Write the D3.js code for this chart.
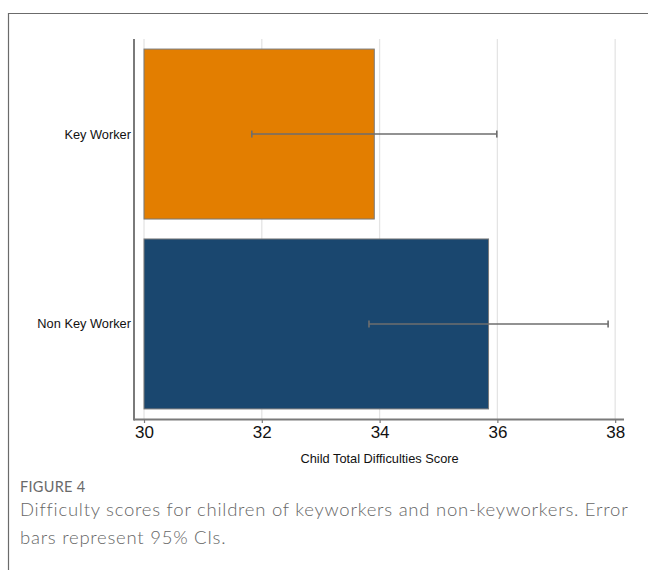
<!DOCTYPE html>
<html>
<head>
<meta charset="utf-8">
<script src="https://cdn.jsdelivr.net/npm/d3@7"></script>
<style>
  html, body { margin: 0; padding: 0; background: #fff; }
  svg { display: block; }
</style>
</head>
<body>
<svg id="chart" width="648" height="570"></svg>
<script>
// Mean child total difficulties score by parent key-worker status, with 95% CIs
const groups = ["Key Worker", "Non Key Worker"];
const meanScore = [33.91, 35.85];
const ciLow = [31.83, 33.82];
const ciHigh = [35.99, 37.88];
const xTicks = [30, 32, 34, 36, 38];
const groupColors = ["#e37e00", "#1a476f"];

const svg = d3.select("#chart");
const W = 648, H = 570;

// outer frame (top and left edges)
svg.append("path")
  .attr("d", `M8.5,${H} L8.5,13.5 L${W},13.5`)
  .attr("fill", "none")
  .attr("stroke", "#6b6b6b")
  .attr("stroke-width", 1.2);

const plot = { left: 134, right: 624, top: 39, bottom: 419 };

const x = d3.scaleLinear()
  .domain([29.83, 38.15])
  .range([plot.left, plot.right]);

const y = d3.scaleBand()
  .domain(groups)
  .range([plot.top, plot.bottom])
  .paddingInner(0.105)
  .paddingOuter(0.053);

// vertical gridlines
svg.append("g")
  .selectAll("line")
  .data(xTicks)
  .join("line")
  .attr("x1", d => x(d)).attr("x2", d => x(d))
  .attr("y1", plot.top).attr("y2", plot.bottom)
  .attr("stroke", "#e4e4e4")
  .attr("stroke-width", 1.3);

// bars start at 30
svg.append("g")
  .selectAll("rect")
  .data(groups)
  .join("rect")
  .attr("x", x(30))
  .attr("y", d => y(d))
  .attr("width", (d, i) => x(meanScore[i]) - x(30))
  .attr("height", y.bandwidth())
  .attr("fill", (d, i) => groupColors[i])
  .attr("stroke", "#7a7a7a")
  .attr("stroke-width", 1);

// error bars
const eb = svg.append("g").attr("stroke", "#6e6e6e").attr("stroke-width", 1.6);
groups.forEach((g, i) => {
  const cy = y(g) + y.bandwidth() / 2;
  eb.append("line")
    .attr("x1", x(ciLow[i])).attr("x2", x(ciHigh[i]))
    .attr("y1", cy).attr("y2", cy);
  [ciLow[i], ciHigh[i]].forEach(v => {
    eb.append("line")
      .attr("x1", x(v)).attr("x2", x(v))
      .attr("y1", cy - 3.5).attr("y2", cy + 3.5);
  });
});

// axes
const xAxis = d3.axisBottom(x).tickValues(xTicks).tickSize(4).tickPadding(3).tickFormat(d3.format("d"));
const gx = svg.append("g")
  .attr("transform", `translate(0,${plot.bottom})`)
  .call(xAxis);
gx.select(".domain").remove();
gx.selectAll(".tick line").attr("stroke", "#7a7a7a").attr("stroke-width", 1.2);
gx.selectAll(".tick text")
  .attr("font-family", "Liberation Sans, Arial, sans-serif")
  .attr("font-size", 17)
  .attr("fill", "#111");

svg.append("line")
  .attr("x1", plot.left).attr("x2", plot.right)
  .attr("y1", plot.bottom + 0.5).attr("y2", plot.bottom + 0.5)
  .attr("stroke", "#7a7a7a").attr("stroke-width", 2);

svg.append("line")
  .attr("x1", plot.left).attr("x2", plot.left)
  .attr("y1", plot.top).attr("y2", plot.bottom + 1.5)
  .attr("stroke", "#7a7a7a").attr("stroke-width", 2);

// category labels
svg.append("g")
  .selectAll("text")
  .data(groups)
  .join("text")
  .attr("x", plot.left - 3)
  .attr("y", d => y(d) + y.bandwidth() / 2)
  .attr("dy", "0.35em")
  .attr("text-anchor", "end")
  .attr("font-family", "Liberation Sans, Arial, sans-serif")
  .attr("font-size", 12.8)
  .attr("fill", "#111")
  .text(d => d);

// axis title
svg.append("text")
  .attr("x", (x(30) + x(38)) / 2)
  .attr("y", 463)
  .attr("text-anchor", "middle")
  .attr("font-family", "Liberation Sans, Arial, sans-serif")
  .attr("font-size", 12.8)
  .attr("fill", "#111")
  .text("Child Total Difficulties Score");

// figure caption
svg.append("text")
  .attr("x", 20)
  .attr("y", 492)
  .attr("font-family", "Lato, 'Open Sans', sans-serif")
  .attr("font-size", 14.5)
  .attr("letter-spacing", 0.3)
  .attr("fill", "#6a6a6a")
  .text("FIGURE 4");

const capLines = [
  "Difficulty scores for children of keyworkers and non-keyworkers. Error",
  "bars represent 95% CIs."
];
svg.append("g")
  .selectAll("text")
  .data(capLines)
  .join("text")
  .attr("x", 20)
  .attr("y", (d, i) => 516 + i * 28)
  .attr("font-family", "Lato, 'Open Sans', sans-serif")
  .attr("font-size", 18.5)
  .attr("font-weight", 300)
  .attr("letter-spacing", 0.75)
  .attr("fill", "#666")
  .text(d => d);
</script>
</body>
</html>
